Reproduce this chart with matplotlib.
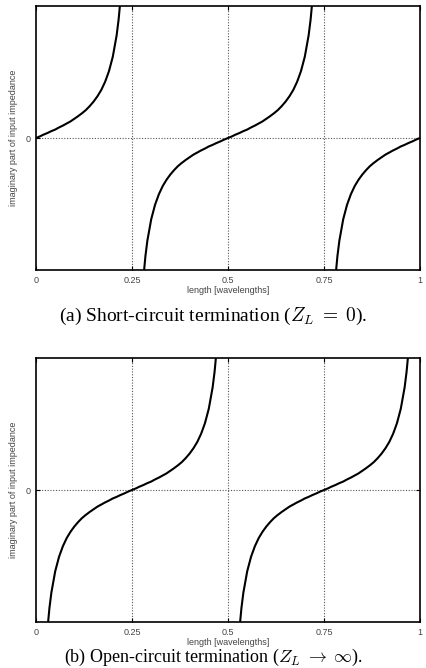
import numpy as np
import matplotlib
matplotlib.use("Agg")
import matplotlib.pyplot as plt

# shape of one branch: offset from the zero crossing
# (in wavelengths) and the imaginary part of the input impedance there
offsets = [-0.22, -0.215, -0.21, -0.20, -0.19, -0.18, -0.17, -0.16, -0.15, -0.14,
           -0.13, -0.12, -0.11, -0.10, -0.09, -0.08, -0.07, -0.06, -0.05, -0.04,
           -0.03, -0.02, -0.01, 0.0, 0.01, 0.02, 0.03, 0.04, 0.05, 0.06, 0.07,
           0.08, 0.09, 0.10, 0.11, 0.12, 0.13, 0.14, 0.15, 0.16, 0.17, 0.18,
           0.19, 0.20, 0.21, 0.215, 0.22]
values = [-5.24, -4.47, -3.89, -3.08, -2.53, -2.13, -1.82, -1.58, -1.38, -1.21,
          -1.06, -0.94, -0.83, -0.73, -0.63, -0.55, -0.47, -0.40, -0.32, -0.26,
          -0.19, -0.13, -0.06, 0.0, 0.06, 0.13, 0.19, 0.26, 0.32, 0.40, 0.47,
          0.55, 0.63, 0.73, 0.83, 0.94, 1.06, 1.21, 1.38, 1.58, 1.82, 2.13,
          2.53, 3.08, 3.89, 4.47, 5.24]

# zero crossings of the branches in each panel
short_crossings = [0.0, 0.5, 1.0]
open_crossings = [0.25, 0.75]

x_ticks = [0, 0.25, 0.5, 0.75, 1]
x_ticklabels = ["0", "0.25", "0.5", "0.75", "1"]

captions = [r"(a) Short-circuit termination ($Z_L\;=\;0$).",
            r"(b) Open-circuit termination ($Z_L\;\to\;\infty$)."]

plt.rcParams['mathtext.fontset'] = 'cm'
plt.rcParams['font.family'] = ['Liberation Sans', 'DejaVu Sans']

W, H = 426, 668
fig = plt.figure(figsize=(W / 100, H / 100), dpi=100)

def px_axes(left, top, right, bottom):
    return fig.add_axes([left / W, 1 - bottom / H, (right - left) / W, (bottom - top) / H])

def draw_panel(ax, crossings):
    offs = np.array(offsets)
    vals = np.array(values)
    for c in crossings:
        ax.plot(c + offs, vals, color='black', lw=1.5, solid_capstyle='butt')
    ax.set_xlim(0, 1)
    ax.set_ylim(-5, 5)
    for xv in [0.25, 0.5, 0.75]:
        ax.axvline(xv, color='#555555', lw=0.8, ls=(0, (1, 1.5)), zorder=0)
    ax.axhline(0, color='#555555', lw=0.8, ls=(0, (1, 1.5)), zorder=0)
    ax.set_xticks(x_ticks)
    ax.set_xticklabels(x_ticklabels)
    ax.set_yticks([0])
    ax.set_yticklabels(["0"])
    ax.tick_params(direction='in', length=3, width=0.8, labelsize=6.5,
                   labelcolor='#444444', top=True, right=True, pad=4)
    for s in ax.spines.values():
        s.set_linewidth(1.2)
    ax.set_xlabel("length [wavelengths]", fontsize=6.5, color='#444444', labelpad=1)
    ax.set_ylabel("imaginary part of input impedance", fontsize=6.5,
                  color='#444444', labelpad=5)

ax1 = px_axes(36, 6, 420, 270)
draw_panel(ax1, short_crossings)
ax2 = px_axes(36, 358, 420, 622)
draw_panel(ax2, open_crossings)

fig.text(0.5, 1 - 321 / H, captions[0], ha='center', va='baseline',
         fontsize=14, family='Liberation Serif')
fig.text(0.5, 1 - 662 / H, captions[1], ha='center', va='baseline',
         fontsize=13, family='Liberation Serif')

fig.savefig("out.png", dpi=100)
